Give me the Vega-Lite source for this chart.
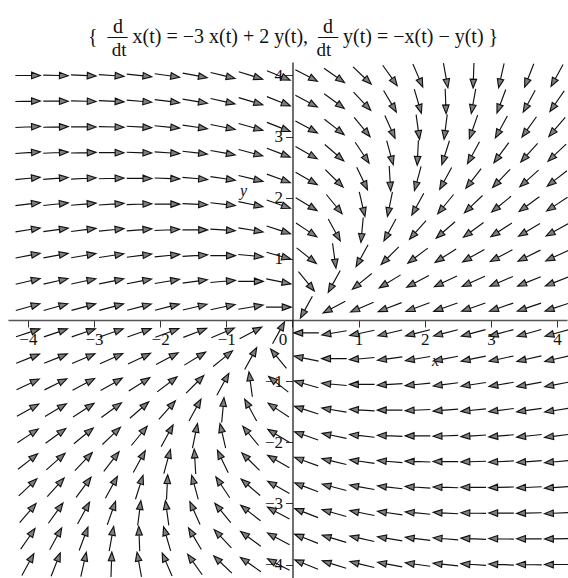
{
  "$schema": "https://vega.github.io/schema/vega-lite/v6.json",
  "width": 559,
  "height": 516,
  "autosize": {"type": "none"},
  "padding": {"left": 8, "top": 62, "right": 1, "bottom": 0},
  "background": "white",
  "config": {"view": {"stroke": null}, "font": "Liberation Serif"},
  "title": {
    "text": [
      "\u200b\u00a0\u00a0\u00a0\u00a0\u00a0d\u00a0\u00a0\u00a0\u00a0\u00a0\u00a0\u00a0\u00a0\u00a0\u00a0\u00a0\u00a0\u00a0\u00a0\u00a0\u00a0\u00a0\u00a0\u00a0\u00a0\u00a0\u00a0\u00a0\u00a0\u00a0\u00a0\u00a0\u00a0\u00a0\u00a0\u00a0\u00a0\u00a0\u00a0\u00a0\u00a0\u00a0\u00a0\u00a0\u00a0d",
      "{\u00a0\u00a0\u2014\u00a0x(t) = \u22123 x(t) + 2 y(t),\u00a0\u00a0\u2014 y(t) = \u2212x(t) \u2212 y(t) }"
    ],
    "subtitle": "\u200b\u00a0\u00a0\u00a0\u00a0\u00a0dt\u00a0\u00a0\u00a0\u00a0\u00a0\u00a0\u00a0\u00a0\u00a0\u00a0\u00a0\u00a0\u00a0\u00a0\u00a0\u00a0\u00a0\u00a0\u00a0\u00a0\u00a0\u00a0\u00a0\u00a0\u00a0\u00a0\u00a0\u00a0\u00a0\u00a0\u00a0\u00a0\u00a0\u00a0\u00a0\u00a0\u00a0\u00a0\u00a0\u00a0dt",
    "anchor": "start",
    "frame": "group",
    "dx": 80,
    "font": "Liberation Serif",
    "fontSize": 20,
    "fontWeight": "normal",
    "color": "#111111",
    "lineHeight": 10,
    "subtitleFont": "Liberation Serif",
    "subtitleFontSize": 19,
    "subtitleColor": "#111111",
    "subtitlePadding": -6,
    "offset": 1
  },
  "data": {
    "values": [
      {"y": 4, "x": [-4, -3.5789, -3.1579, -2.7368, -2.3158, -1.8947, -1.4737, -1.0526, -0.6316, -0.2105, 0.2105, 0.6316, 1.0526, 1.4737, 1.8947, 2.3158, 2.7368, 3.1579, 3.5789, 4], "a": [0, 1.2, 2.5, 4.1, 5.9, 8.0, 10.6, 13.6, 17.3, 21.9, 27.7, 34.8, 43.7, 54.5, 66.8, 79.7, 92.0, 102.7, 111.5, 118.6]},
      {"y": 3.5789, "x": [-4, -3.5789, -3.1579, -2.7368, -2.3158, -1.8947, -1.4737, -1.0526, -0.6316, -0.2105, 0.2105, 0.6316, 1.0526, 1.4737, 1.8947, 2.3158, 2.7368, 3.1579, 3.5789, 4], "a": [358.8, 0, 1.3, 2.9, 4.7, 6.9, 9.5, 12.7, 16.6, 21.6, 28.0, 36.3, 46.7, 59.4, 73.6, 87.8, 100.3, 110.6, 118.6, 124.9]},
      {"y": 3.1579, "x": [-4, -3.5789, -3.1579, -2.7368, -2.3158, -1.8947, -1.4737, -1.0526, -0.6316, -0.2105, 0.2105, 0.6316, 1.0526, 1.4737, 1.8947, 2.3158, 2.7368, 3.1579, 3.5789, 4], "a": [357.6, 358.7, 0, 1.5, 3.3, 5.5, 8.2, 11.5, 15.8, 21.3, 28.5, 38.2, 50.7, 66.0, 82.2, 97.2, 109.3, 118.6, 125.6, 130.9]},
      {"y": 2.7368, "x": [-4, -3.5789, -3.1579, -2.7368, -2.3158, -1.8947, -1.4737, -1.0526, -0.6316, -0.2105, 0.2105, 0.6316, 1.0526, 1.4737, 1.8947, 2.3158, 2.7368, 3.1579, 3.5789, 4], "a": [356.2, 357.3, 358.5, 0, 1.8, 4.0, 6.7, 10.1, 14.7, 20.8, 29.2, 40.8, 56.3, 74.8, 92.8, 107.6, 118.6, 126.5, 132.3, 136.6]},
      {"y": 2.3158, "x": [-4, -3.5789, -3.1579, -2.7368, -2.3158, -1.8947, -1.4737, -1.0526, -0.6316, -0.2105, 0.2105, 0.6316, 1.0526, 1.4737, 1.8947, 2.3158, 2.7368, 3.1579, 3.5789, 4], "a": [354.7, 355.7, 356.9, 358.3, 0, 2.1, 4.9, 8.5, 13.3, 20.1, 30.1, 44.6, 64.5, 86.5, 105.2, 118.6, 127.7, 134.0, 138.5, 141.8]},
      {"y": 1.8947, "x": [-4, -3.5789, -3.1579, -2.7368, -2.3158, -1.8947, -1.4737, -1.0526, -0.6316, -0.2105, 0.2105, 0.6316, 1.0526, 1.4737, 1.8947, 2.3158, 2.7368, 3.1579, 3.5789, 4], "a": [353.0, 353.9, 355.0, 356.3, 357.9, 0, 2.7, 6.3, 11.5, 19.3, 31.4, 50.7, 76.9, 101.6, 118.6, 129.3, 136.2, 140.8, 144.1, 146.6]},
      {"y": 1.4737, "x": [-4, -3.5789, -3.1579, -2.7368, -2.3158, -1.8947, -1.4737, -1.0526, -0.6316, -0.2105, 0.2105, 0.6316, 1.0526, 1.4737, 1.8947, 2.3158, 2.7368, 3.1579, 3.5789, 4], "a": [351.2, 352.0, 352.9, 354.1, 355.5, 357.4, 0, 3.6, 9.1, 17.9, 33.7, 61.4, 95.2, 118.6, 131.5, 139.0, 143.7, 147.0, 149.3, 151.0]},
      {"y": 1.0526, "x": [-4, -3.5789, -3.1579, -2.7368, -2.3158, -1.8947, -1.4737, -1.0526, -0.6316, -0.2105, 0.2105, 0.6316, 1.0526, 1.4737, 1.8947, 2.3158, 2.7368, 3.1579, 3.5789, 4], "a": [349.2, 349.8, 350.5, 351.5, 352.7, 354.3, 356.6, 0, 5.5, 15.8, 38.2, 82.2, 118.6, 135.0, 143.0, 147.5, 150.4, 152.3, 153.8, 154.9]},
      {"y": 0.6316, "x": [-4, -3.5789, -3.1579, -2.7368, -2.3158, -1.8947, -1.4737, -1.0526, -0.6316, -0.2105, 0.2105, 0.6316, 1.0526, 1.4737, 1.8947, 2.3158, 2.7368, 3.1579, 3.5789, 4], "a": [346.9, 347.3, 347.8, 348.5, 349.3, 350.5, 352.3, 355.0, 0, 11.5, 50.7, 118.6, 140.8, 148.6, 152.4, 154.6, 156.0, 157.1, 157.8, 158.4]},
      {"y": 0.2105, "x": [-4, -3.5789, -3.1579, -2.7368, -2.3158, -1.8947, -1.4737, -1.0526, -0.6316, -0.2105, 0.2105, 0.6316, 1.0526, 1.4737, 1.8947, 2.3158, 2.7368, 3.1579, 3.5789, 4], "a": [344.4, 344.5, 344.7, 345.0, 345.3, 345.8, 346.5, 347.8, 350.5, 0, 118.6, 152.3, 157.1, 158.9, 159.9, 160.5, 160.9, 161.2, 161.4, 161.6]},
      {"y": -0.2105, "x": [-4, -3.5789, -3.1579, -2.7368, -2.3158, -1.8947, -1.4737, -1.0526, -0.6316, -0.2105, 0.2105, 0.6316, 1.0526, 1.4737, 1.8947, 2.3158, 2.7368, 3.1579, 3.5789, 4], "a": [341.6, 341.4, 341.2, 340.9, 340.5, 339.9, 338.9, 337.1, 332.3, 298.6, 180, 170.5, 167.8, 166.5, 165.8, 165.3, 165.0, 164.7, 164.5, 164.4]},
      {"y": -0.6316, "x": [-4, -3.5789, -3.1579, -2.7368, -2.3158, -1.8947, -1.4737, -1.0526, -0.6316, -0.2105, 0.2105, 0.6316, 1.0526, 1.4737, 1.8947, 2.3158, 2.7368, 3.1579, 3.5789, 4], "a": [338.4, 337.8, 337.1, 336.0, 334.6, 332.4, 328.6, 320.8, 298.6, 230.7, 191.5, 180, 175.0, 172.3, 170.5, 169.3, 168.5, 167.8, 167.3, 166.9]},
      {"y": -1.0526, "x": [-4, -3.5789, -3.1579, -2.7368, -2.3158, -1.8947, -1.4737, -1.0526, -0.6316, -0.2105, 0.2105, 0.6316, 1.0526, 1.4737, 1.8947, 2.3158, 2.7368, 3.1579, 3.5789, 4], "a": [334.9, 333.8, 332.3, 330.4, 327.5, 323.0, 315.0, 298.6, 262.2, 218.2, 195.8, 185.5, 180, 176.6, 174.3, 172.7, 171.5, 170.5, 169.8, 169.2]},
      {"y": -1.4737, "x": [-4, -3.5789, -3.1579, -2.7368, -2.3158, -1.8947, -1.4737, -1.0526, -0.6316, -0.2105, 0.2105, 0.6316, 1.0526, 1.4737, 1.8947, 2.3158, 2.7368, 3.1579, 3.5789, 4], "a": [331.0, 329.3, 327.0, 323.7, 319.0, 311.5, 298.6, 275.2, 241.4, 213.7, 197.9, 189.1, 183.6, 180, 177.4, 175.5, 174.1, 172.9, 172.0, 171.2]},
      {"y": -1.8947, "x": [-4, -3.5789, -3.1579, -2.7368, -2.3158, -1.8947, -1.4737, -1.0526, -0.6316, -0.2105, 0.2105, 0.6316, 1.0526, 1.4737, 1.8947, 2.3158, 2.7368, 3.1579, 3.5789, 4], "a": [326.6, 324.1, 320.8, 316.2, 309.3, 298.6, 281.6, 256.9, 230.7, 211.4, 199.3, 191.5, 186.3, 182.7, 180, 177.9, 176.3, 175.0, 173.9, 173.0]},
      {"y": -2.3158, "x": [-4, -3.5789, -3.1579, -2.7368, -2.3158, -1.8947, -1.4737, -1.0526, -0.6316, -0.2105, 0.2105, 0.6316, 1.0526, 1.4737, 1.8947, 2.3158, 2.7368, 3.1579, 3.5789, 4], "a": [321.8, 318.5, 314.0, 307.7, 298.6, 285.2, 266.5, 244.5, 224.6, 210.1, 200.1, 193.3, 188.5, 184.9, 182.1, 180, 178.3, 176.9, 175.7, 174.7]},
      {"y": -2.7368, "x": [-4, -3.5789, -3.1579, -2.7368, -2.3158, -1.8947, -1.4737, -1.0526, -0.6316, -0.2105, 0.2105, 0.6316, 1.0526, 1.4737, 1.8947, 2.3158, 2.7368, 3.1579, 3.5789, 4], "a": [316.6, 312.3, 306.5, 298.6, 287.6, 272.8, 254.8, 236.3, 220.8, 209.2, 200.8, 194.7, 190.1, 186.7, 184.0, 181.8, 180, 178.5, 177.3, 176.2]},
      {"y": -3.1579, "x": [-4, -3.5789, -3.1579, -2.7368, -2.3158, -1.8947, -1.4737, -1.0526, -0.6316, -0.2105, 0.2105, 0.6316, 1.0526, 1.4737, 1.8947, 2.3158, 2.7368, 3.1579, 3.5789, 4], "a": [310.9, 305.6, 298.6, 289.3, 277.2, 262.2, 246.0, 230.7, 218.2, 208.5, 201.3, 195.8, 191.5, 188.2, 185.5, 183.3, 181.5, 180, 178.7, 177.6]},
      {"y": -3.5789, "x": [-4, -3.5789, -3.1579, -2.7368, -2.3158, -1.8947, -1.4737, -1.0526, -0.6316, -0.2105, 0.2105, 0.6316, 1.0526, 1.4737, 1.8947, 2.3158, 2.7368, 3.1579, 3.5789, 4], "a": [304.9, 298.6, 290.6, 280.3, 267.8, 253.6, 239.4, 226.7, 216.3, 208.0, 201.6, 196.6, 192.7, 189.5, 186.9, 184.7, 182.9, 181.3, 180, 178.8]},
      {"y": -4, "x": [-4, -3.5789, -3.1579, -2.7368, -2.3158, -1.8947, -1.4737, -1.0526, -0.6316, -0.2105, 0.2105, 0.6316, 1.0526, 1.4737, 1.8947, 2.3158, 2.7368, 3.1579, 3.5789, 4], "a": [298.6, 291.5, 282.7, 272.0, 259.7, 246.8, 234.5, 223.7, 214.8, 207.7, 201.9, 197.3, 193.6, 190.6, 188.0, 185.9, 184.1, 182.5, 181.2, 180]}
    ]
  },
  "transform": [{"flatten": ["x", "a"]}],
  "mark": {
    "type": "point",
    "shape": "M -1 0 L 0.32 0 M 1 0 L 0.3 -0.26 L 0.3 0.26 Z",
    "size": 625,
    "filled": true,
    "fill": "#7f7f7f",
    "stroke": "#111111",
    "strokeWidth": 1.15,
    "opacity": 1,
    "fillOpacity": 1,
    "strokeOpacity": 1
  },
  "encoding": {
    "x": {
      "field": "x",
      "type": "quantitative",
      "scale": {"domain": [-4.3, 4.15], "nice": false, "zero": false},
      "axis": {
        "orient": "bottom",
        "offset": -258,
        "values": [-4, -3.5, -3, -2.5, -2, -1.5, -1, -0.5, 0, 0.5, 1, 1.5, 2, 2.5, 3, 3.5, 4],
        "format": "d",
        "labelExpr": "datum.value % 1 === 0 ? datum.label : ''",
        "grid": false,
        "domainColor": "#555555",
        "domainWidth": 1.5,
        "tickColor": "#333333",
        "tickWidth": 1,
        "tickSize": {"condition": {"test": "datum.value % 1 === 0", "value": 7}, "value": 5},
        "labelFont": "Liberation Serif",
        "labelFontSize": 17,
        "labelColor": "#111111",
        "labelPadding": 4,
        "labelFlush": false,
        "labelOverlap": false,
        "labelOffset": {"condition": {"test": "datum.value === 0", "value": -10}, "value": 0},
        "title": "x",
        "titleFont": "Liberation Serif",
        "titleFontStyle": "italic",
        "titleFontWeight": "normal",
        "titleFontSize": 16,
        "titleColor": "#111111",
        "titleX": 427,
        "titleY": 40,
        "titleBaseline": "middle",
        "titleAlign": "center"
      }
    },
    "y": {
      "field": "y",
      "type": "quantitative",
      "scale": {"domain": [-4.22, 4.22], "nice": false, "zero": false},
      "axis": {
        "orient": "left",
        "offset": -284.5,
        "values": [-4, -3.5, -3, -2.5, -2, -1.5, -1, -0.5, 0, 0.5, 1, 1.5, 2, 2.5, 3, 3.5, 4],
        "format": "d",
        "labelExpr": "datum.value % 1 === 0 && datum.value !== 0 ? datum.label : ''",
        "grid": false,
        "domainColor": "#222222",
        "domainWidth": 1.3,
        "tickColor": "#333333",
        "tickWidth": 1,
        "tickSize": {"condition": {"test": "datum.value % 1 === 0", "value": 7}, "value": 4},
        "labelFont": "Liberation Serif",
        "labelFontSize": 17,
        "labelColor": "#111111",
        "labelPadding": 3,
        "labelFlush": false,
        "labelOverlap": false,
        "title": "y",
        "titleFont": "Liberation Serif",
        "titleFontStyle": "italic",
        "titleFontWeight": "normal",
        "titleFontSize": 16,
        "titleColor": "#111111",
        "titleAngle": 0,
        "titleX": -49.5,
        "titleY": 128,
        "titleBaseline": "middle",
        "titleAlign": "center"
      }
    },
    "angle": {"field": "a", "type": "quantitative", "scale": null}
  }
}
